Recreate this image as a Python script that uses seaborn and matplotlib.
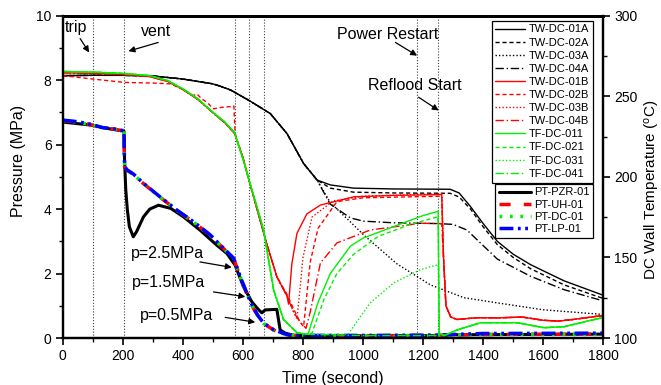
import matplotlib
matplotlib.use("Agg")
import matplotlib.pyplot as plt
import seaborn as sns
import pandas as pd
from matplotlib.ticker import MultipleLocator

# ---------------- data ----------------
# Pressure (MPa) vs time (s)
PZR_T = [0, 100, 150, 204, 206, 210, 215, 222, 235, 246, 269, 290, 319, 360, 402, 458, 513, 547, 574,
         602, 630, 650, 663, 674, 713, 718, 724, 741, 770, 900, 1250, 1300, 1800]
PZR_P = [6.70, 6.60, 6.50, 6.42, 5.50, 4.60, 4.00, 3.45, 3.14, 3.30, 3.76, 4.00, 4.12, 4.02, 3.76, 3.34, 2.88,
         2.62, 2.26, 1.59, 1.12, 0.90, 0.78, 0.87, 0.89, 0.60, 0.25, 0.15, 0.08, 0.07, 0.07, 0.10, 0.12]
LOOP_T = [0, 50, 100, 130, 170, 204, 206, 215, 235, 269, 324, 380, 435, 491, 535, 569, 591, 613, 635, 652,
          669, 702, 747, 800, 1000, 1250, 1300, 1400, 1800]
UH_P = [6.75, 6.70, 6.60, 6.52, 6.48, 6.42, 5.30, 5.20, 5.08, 4.79, 4.37, 3.96, 3.60, 3.19, 2.78, 2.47, 1.90,
        1.38, 0.92, 0.66, 0.45, 0.25, 0.09, 0.07, 0.07, 0.08, 0.09, 0.11, 0.12]
DC_P = [6.75, 6.70, 6.60, 6.52, 6.48, 6.42, 5.30, 5.20, 5.08, 4.79, 4.37, 3.96, 3.60, 3.19, 2.78, 2.47, 1.90,
        1.38, 0.92, 0.66, 0.45, 0.25, 0.09, 0.07, 0.07, 0.08, 0.09, 0.11, 0.11]
LP_P = [6.76, 6.71, 6.62, 6.53, 6.49, 6.43, 5.32, 5.21, 5.09, 4.80, 4.38, 3.97, 3.61, 3.20, 2.79, 2.48, 1.91,
        1.39, 0.93, 0.67, 0.46, 0.26, 0.10, 0.08, 0.08, 0.09, 0.11, 0.14, 0.15]

# Wall / fluid temperatures (deg C) vs time (s)
K_EARLY_T = [0, 100, 200, 300, 400, 500, 524, 560, 624, 691, 747, 802, 847]
K_EARLY_V = [262.8, 263.0, 263.0, 262.6, 260.7, 257.7, 256.3, 253.8, 247.0, 239.3, 226.8, 208.3, 198.0]
TW01A_T = K_EARLY_T + [891, 968, 1100, 1290, 1320, 1358, 1400, 1447, 1500, 1558, 1669, 1800]
TW01A_V = K_EARLY_V + [195.0, 193.0, 192.5, 192.3, 190.0, 181.5, 171.0, 160.0, 152.0, 145.5, 135.5, 126.5]
TW02A_T = K_EARLY_T + [891, 968, 1100, 1290, 1320, 1358, 1400, 1447, 1500, 1558, 1669, 1800]
TW02A_V = K_EARLY_V + [193.0, 190.5, 190.0, 189.8, 187.5, 180.0, 169.0, 158.0, 150.0, 143.0, 133.0, 124.5]
TW03A_T = K_EARLY_T + [891, 958, 1002, 1113, 1224, 1336, 1447, 1600, 1800]
TW03A_V = K_EARLY_V + [184.0, 172.0, 164.0, 146.0, 133.0, 125.0, 121.8, 117.5, 114.6]
TW04A_T = K_EARLY_T + [891, 958, 1002, 1100, 1250, 1300, 1346, 1402, 1447, 1558, 1669, 1800]
TW04A_V = K_EARLY_V + [183.0, 174.5, 172.5, 171.5, 171.0, 170.5, 167.0, 157.0, 149.0, 138.3, 130.0, 123.0]

R_EARLY_T = [0, 100, 200, 290, 350, 400, 450, 500, 540, 572, 600, 620, 650, 680, 713, 747]
R_EARLY_V = [264.6, 264.2, 263.5, 262.2, 259.2, 254.2, 248.0, 239.8, 233.5, 227.0, 212.0, 198.0, 178.0,
             158.0, 138.0, 126.0]
R_LATE_T = [1268, 1276, 1292, 1313, 1380, 1450, 1530, 1600, 1650, 1700, 1800]
R_LATE_V = [150.0, 120.0, 113.0, 111.5, 112.6, 112.5, 113.0, 111.0, 110.5, 111.5, 114.0]
TW01B_T = R_EARLY_T + [752, 763, 780, 813, 858, 969, 1100, 1262] + R_LATE_T
TW01B_V = R_EARLY_V + [121.0, 146.0, 165.0, 177.0, 182.5, 187.6, 188.5, 189.0] + R_LATE_V
TW02B_T = [0, 100, 205, 300, 360, 400, 435, 447, 462, 480, 502, 524, 558, 570, 574, 600, 620, 650, 680, 713,
           747, 769, 790, 802, 824, 850, 913, 1000, 1262] + R_LATE_T
TW02B_V = [262.8, 260.7, 258.6, 258.2, 257.7, 254.2, 250.4, 251.5, 248.5, 246.3, 242.2, 243.0, 243.6, 244.0,
           227.0, 212.0, 198.0, 178.0, 158.0, 138.0, 127.0, 118.0, 110.0, 107.0, 147.0, 168.0, 184.6, 187.0,
           188.0] + R_LATE_V
TW03B_T = R_EARLY_T + [769, 780, 790, 800, 830, 900, 1000, 1262] + R_LATE_T
TW03B_V = R_EARLY_V + [116.0, 112.0, 130.0, 150.0, 175.0, 185.0, 188.0, 189.5] + R_LATE_V
TW04B_T = R_EARLY_T + [769, 790, 810, 824, 858, 913, 1024, 1191, 1262] + R_LATE_T
TW04B_V = R_EARLY_V + [116.0, 110.0, 106.0, 116.0, 146.5, 159.0, 167.0, 171.2, 171.0] + R_LATE_V

G_EARLY_T = [0, 100, 200, 290, 350, 400, 450, 500, 540, 572, 602, 630, 669, 702, 735, 780, 813]
G_EARLY_V = [265.4, 265.0, 264.2, 262.8, 259.7, 254.6, 248.4, 240.1, 234.0, 227.5, 210.0, 192.0, 167.0,
             130.0, 111.5, 103.3, 102.3]
G_LATE_T = [1254, 1270, 1313, 1391, 1513, 1602, 1669, 1800]
G_LATE_V = [103.0, 101.5, 105.0, 109.5, 109.5, 106.4, 107.0, 112.8]
TF011_T = G_EARLY_T + [818, 850, 891, 958, 1000, 1100, 1200, 1250] + G_LATE_T
TF011_V = G_EARLY_V + [103.0, 122.0, 140.0, 157.0, 162.0, 169.0, 176.0, 178.6] + G_LATE_V
TF021_T = G_EARLY_T + [830, 870, 913, 969, 1050, 1150, 1250] + G_LATE_T
TF021_V = G_EARLY_V + [103.0, 124.0, 140.0, 152.0, 163.0, 170.0, 175.3] + G_LATE_V
TF031_T = G_EARLY_T + [950, 1024, 1102, 1191, 1250] + G_LATE_T
TF031_V = G_EARLY_V + [102.3, 121.8, 134.2, 142.4, 145.5] + G_LATE_V
TF041_T = G_EARLY_T + [1000, 1250] + G_LATE_T
TF041_V = G_EARLY_V + [101.5, 101.5] + G_LATE_V

TEMP_NAMES = ["TW-DC-01A", "TW-DC-02A", "TW-DC-03A", "TW-DC-04A",
              "TW-DC-01B", "TW-DC-02B", "TW-DC-03B", "TW-DC-04B",
              "TF-DC-011", "TF-DC-021", "TF-DC-031", "TF-DC-041"]
TEMP_T = [TW01A_T, TW02A_T, TW03A_T, TW04A_T, TW01B_T, TW02B_T, TW03B_T, TW04B_T,
          TF011_T, TF021_T, TF031_T, TF041_T]
TEMP_V = [TW01A_V, TW02A_V, TW03A_V, TW04A_V, TW01B_V, TW02B_V, TW03B_V, TW04B_V,
          TF011_V, TF021_V, TF031_V, TF041_V]

PRES_NAMES = ["PT-PZR-01", "PT-UH-01", "PT-DC-01", "PT-LP-01"]
PRES_T = [PZR_T, LOOP_T, LOOP_T, LOOP_T]
PRES_V = [PZR_P, UH_P, DC_P, LP_P]

EVENT_TIMES = [100, 205, 575, 620, 670, 1180, 1250]

# (label, text x, text y, arrow tail x, tail y, head x, head y) in time / pressure units
NOTES = [("trip", 44, 9.63, 58, 9.29, 88, 8.86),
         ("vent", 310, 9.50, 318, 9.17, 219, 8.90),
         ("Power Restart", 1083, 9.43, 1108, 9.17, 1180, 8.76),
         ("Reflood Start", 1174, 7.83, 1185, 7.47, 1252, 7.06),
         ("p=2.5MPa", 348, 2.62, 457, 2.36, 563, 2.19),
         ("p=1.5MPa", 354, 1.71, 502, 1.43, 608, 1.28),
         ("p=0.5MPa", 380, 0.71, 541, 0.64, 641, 0.49)]

# ---------------- styling ----------------
sns.set_style("ticks")
plt.rcParams['font.family'] = ['Liberation Sans', 'DejaVu Sans']
plt.rcParams['mathtext.fontset'] = 'custom'
plt.rcParams['mathtext.rm'] = 'Liberation Sans'
plt.rcParams['mathtext.it'] = 'Liberation Sans:italic'
plt.rcParams['axes.edgecolor'] = 'black'
plt.rcParams['xtick.color'] = 'black'
plt.rcParams['ytick.color'] = 'black'
plt.rcParams['text.color'] = 'black'
plt.rcParams['axes.labelcolor'] = 'black'

RED = '#ff0000'
GREEN = '#00f000'
BLUE = '#0000ff'
temp_colors = ['black'] * 4 + [RED] * 4 + [GREEN] * 4
temp_styles = ['-', (0, (3, 2)), (0, (1, 1.5)), (0, (6, 2, 1, 2))] * 3

pres_colors = ['black', RED, GREEN, BLUE]
pres_styles = ['-', (0, (3.2, 3.8)), (0, (0.8, 2.2)), (0, (4, 1.3, 0.8, 1.3, 0.8, 1.3))]
pres_lw = [2.2, 2.5, 2.5, 2.5]

fig = plt.figure(figsize=(6.61, 3.85), dpi=100)
ax = fig.add_axes([62.7 / 661, 1 - 338 / 385, 540.6 / 661, 322.3 / 385])
ax2 = ax.twinx()

for t in EVENT_TIMES:
    ax.axvline(t, color='0.25', lw=0.8, ls=(0, (1, 1.6)), zorder=0.5)

pres_lines = []
for name, tt, vv, c, ls, lw in zip(PRES_NAMES, PRES_T, PRES_V, pres_colors, pres_styles, pres_lw):
    df = pd.DataFrame({"time": tt, "value": vv})
    sns.lineplot(data=df, x="time", y="value", ax=ax, color=c, linestyle=ls, lw=lw,
                 estimator=None, sort=False, legend=False, label=name)
    pres_lines.append(ax.lines[-1])

temp_lines = []
for name, tt, vv, c, ls in zip(TEMP_NAMES, TEMP_T, TEMP_V, temp_colors, temp_styles):
    df = pd.DataFrame({"time": tt, "value": vv})
    sns.lineplot(data=df, x="time", y="value", ax=ax2, color=c, linestyle=ls, lw=1.0,
                 estimator=None, sort=False, legend=False, label=name)
    temp_lines.append(ax2.lines[-1])

# axes limits / ticks
ax.set_xlim(0, 1800)
ax.set_ylim(0, 10)
ax2.set_ylim(100, 300)
ax.xaxis.set_major_locator(MultipleLocator(200))
ax.xaxis.set_minor_locator(MultipleLocator(100))
ax.yaxis.set_major_locator(MultipleLocator(2))
ax.yaxis.set_minor_locator(MultipleLocator(1))
ax2.yaxis.set_major_locator(MultipleLocator(50))
ax2.yaxis.set_minor_locator(MultipleLocator(25))
for a in (ax, ax2):
    a.tick_params(which='major', direction='out', length=5, width=1.2, labelsize=10, pad=3)
    a.tick_params(which='minor', direction='out', length=3, width=1.0)
    for s in a.spines.values():
        s.set_visible(True)
        s.set_linewidth(1.6)
        s.set_color('black')
    a.spines['top'].set_linewidth(2.0)

ax.set_xlabel("Time (second)", fontsize=11.5, labelpad=6)
ax.set_ylabel("Pressure (MPa)", fontsize=11.5)
ax2.set_ylabel(r"DC Wall Temperature ($^{\mathrm{o}}$C)", fontsize=11)
ax.yaxis.set_label_coords(-0.068, 0.55)
ax2.yaxis.set_label_coords(1.074, 0.46)

# annotations
for txt, tx, ty, ax0, ay0, hx, hy in NOTES:
    ax.text(tx, ty, txt, ha='center', va='center', fontsize=11.5, zorder=6)
    ax.annotate('', xy=(hx, hy), xytext=(ax0, ay0),
                arrowprops=dict(arrowstyle='-|>', color='black', lw=0.9,
                                mutation_scale=9, shrinkA=0, shrinkB=0), zorder=6)

# legends
leg1 = ax2.legend(handles=temp_lines, labels=TEMP_NAMES, loc='upper right',
                  bbox_to_anchor=(0.981, 0.985), fontsize=8, frameon=True, fancybox=False,
                  edgecolor='black', labelspacing=0.28, handlelength=2.7, handletextpad=0.3,
                  borderpad=0.35, borderaxespad=0)
leg1.get_frame().set_linewidth(0.9)
leg1.get_frame().set_facecolor('white')
leg1.get_frame().set_alpha(1)
ax2.add_artist(leg1)
leg2 = ax2.legend(handles=pres_lines, labels=PRES_NAMES, loc='upper right',
                  bbox_to_anchor=(0.981, (338 - 183.5) / 322.3), fontsize=8, frameon=True,
                  fancybox=False, edgecolor='black', labelspacing=0.2, handlelength=2.9,
                  handletextpad=0.2, borderpad=0.35, borderaxespad=0)
leg2.get_frame().set_linewidth(0.9)
leg2.get_frame().set_facecolor('white')
leg2.get_frame().set_alpha(1)

fig.savefig("out.png", dpi=100)
